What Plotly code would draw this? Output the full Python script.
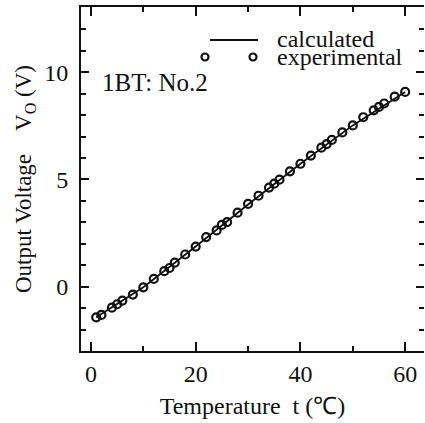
import plotly.graph_objects as go

# Experimental data
t_exp = [1, 2, 4, 5, 6, 8, 10, 12, 14, 15, 16, 18, 20, 22, 24, 25, 26,
         28, 30, 32, 34, 35, 36, 38, 40, 42, 44, 45, 46, 48, 50, 52, 54, 55, 56, 58, 60]
v_exp = [-1.43, -1.32, -0.98, -0.82, -0.65, -0.37, -0.03, 0.36, 0.72, 0.87, 1.12, 1.50,
         1.87, 2.31, 2.62, 2.88, 3.01, 3.45, 3.86, 4.24, 4.62, 4.80, 4.99, 5.38, 5.73,
         6.11, 6.48, 6.65, 6.84, 7.19, 7.52, 7.90, 8.22, 8.38, 8.54, 8.86, 9.08]

# Calculated curve
t_calc = [1, 10, 20, 30, 40, 50, 60]
v_calc = [-1.43, -0.03, 1.87, 3.83, 5.73, 7.52, 9.08]

x_ticks = [0, 20, 40, 60]
y_ticks = [0, 5, 10]

FONT = "'Liberation Serif', 'Times New Roman', serif"
INK = "#111111"
X_RANGE = [-1.9, 63.6]
Y_RANGE = [-3.0, 13.04]

fig = go.Figure()
fig.add_trace(go.Scatter(x=t_calc, y=v_calc, mode="lines",
                         line=dict(color=INK, width=1.8), name="calculated",
                         showlegend=False))
fig.add_trace(go.Scatter(x=t_exp, y=v_exp, mode="markers",
                         marker=dict(symbol="circle-open", size=8, color=INK,
                                     line=dict(width=2.2, color=INK)),
                         name="experimental", showlegend=False))
# invisible trace to carry the top/right tick axes
fig.add_trace(go.Scatter(x=t_calc, y=v_calc, mode="lines", xaxis="x2", yaxis="y2",
                         line=dict(width=0, color="rgba(0,0,0,0)"), hoverinfo="skip",
                         showlegend=False))

# Manual legend (paper coordinates)
W, H = 425, 423
L, R, T, B = 81, 1, 7, 72
pw, ph = W - L - R, H - T - B
def px(x):
    return (x - L) / pw
def py(y):
    return (H - B - y) / ph

fig.add_shape(type="line", xref="paper", yref="paper",
              x0=px(210), x1=px(258), y0=py(40), y1=py(40),
              line=dict(color=INK, width=1.8))
for cx in (205, 253):
    fig.add_shape(type="circle", xref="paper", yref="paper",
                  x0=px(cx - 3.5), x1=px(cx + 3.5), y0=py(57 + 3.5), y1=py(57 - 3.5),
                  line=dict(color=INK, width=2.2))
fig.add_annotation(xref="paper", yref="paper", x=px(276), y=py(39), text="calculated",
                   showarrow=False, xanchor="left", yanchor="middle", borderpad=0,
                   font=dict(family=FONT, size=24, color=INK))
fig.add_annotation(xref="paper", yref="paper", x=px(276), y=py(57), text="experimental",
                   showarrow=False, xanchor="left", yanchor="middle", borderpad=0,
                   font=dict(family=FONT, size=24, color=INK))
fig.add_annotation(xref="paper", yref="paper", x=px(100), y=py(83), text="1BT: No.2",
                   showarrow=False, xanchor="left", yanchor="middle",
                   font=dict(family=FONT, size=25, color=INK))

minor_x = dict(dtick=10, tick0=0, ticks="inside", ticklen=5, tickwidth=2, tickcolor=INK)
minor_y = dict(dtick=1, tick0=0, ticks="inside", ticklen=5, tickwidth=2, tickcolor=INK)

fig.update_layout(
    width=W, height=H,
    margin=dict(l=L, r=R, t=T, b=B, autoexpand=False),
    paper_bgcolor="white", plot_bgcolor="white",
    font=dict(family=FONT, size=22, color=INK),
    showlegend=False,
    xaxis=dict(
        range=X_RANGE, tickvals=x_ticks, ticks="inside", ticklen=9, tickwidth=2,
        tickcolor=INK, showline=True, linewidth=2, linecolor=INK,
        showgrid=False, zeroline=False, automargin=False, minor=minor_x,
        tickfont=dict(family=FONT, size=24, color=INK),
        title=dict(text="Temperature&nbsp;&nbsp;t (℃)",
                   font=dict(family=FONT, size=24, color=INK), standoff=11),
    ),
    yaxis=dict(
        range=Y_RANGE, tickvals=y_ticks, ticks="inside", ticklen=8, tickwidth=2,
        tickcolor=INK, showline=True, linewidth=2, linecolor=INK,
        showgrid=False, zeroline=False, automargin=False, minor=minor_y,
        tickfont=dict(family=FONT, size=24, color=INK), ticklabelstandoff=6,
        title=dict(text="Output Voltage&nbsp;&nbsp;&nbsp;&nbsp;V<sub>O</sub> (V)",
                   font=dict(family=FONT, size=23, color=INK), standoff=6),
    ),
    xaxis2=dict(
        overlaying="x", side="top", range=X_RANGE, tickvals=x_ticks, ticks="inside",
        ticklen=9, tickwidth=2, tickcolor=INK, showline=True, linewidth=2, linecolor=INK,
        showticklabels=False, showgrid=False, zeroline=False, automargin=False,
        minor=minor_x,
    ),
    yaxis2=dict(
        overlaying="y", side="right", range=Y_RANGE, tickvals=y_ticks, ticks="inside",
        ticklen=8, tickwidth=2, tickcolor=INK, showline=False,
        showticklabels=False, showgrid=False, zeroline=False, automargin=False,
        minor=minor_y,
    ),
)

fig.write_html("out.html", config={"displayModeBar": False},
               post_script="document.body.style.margin='0';document.body.style.overflow='hidden';")
